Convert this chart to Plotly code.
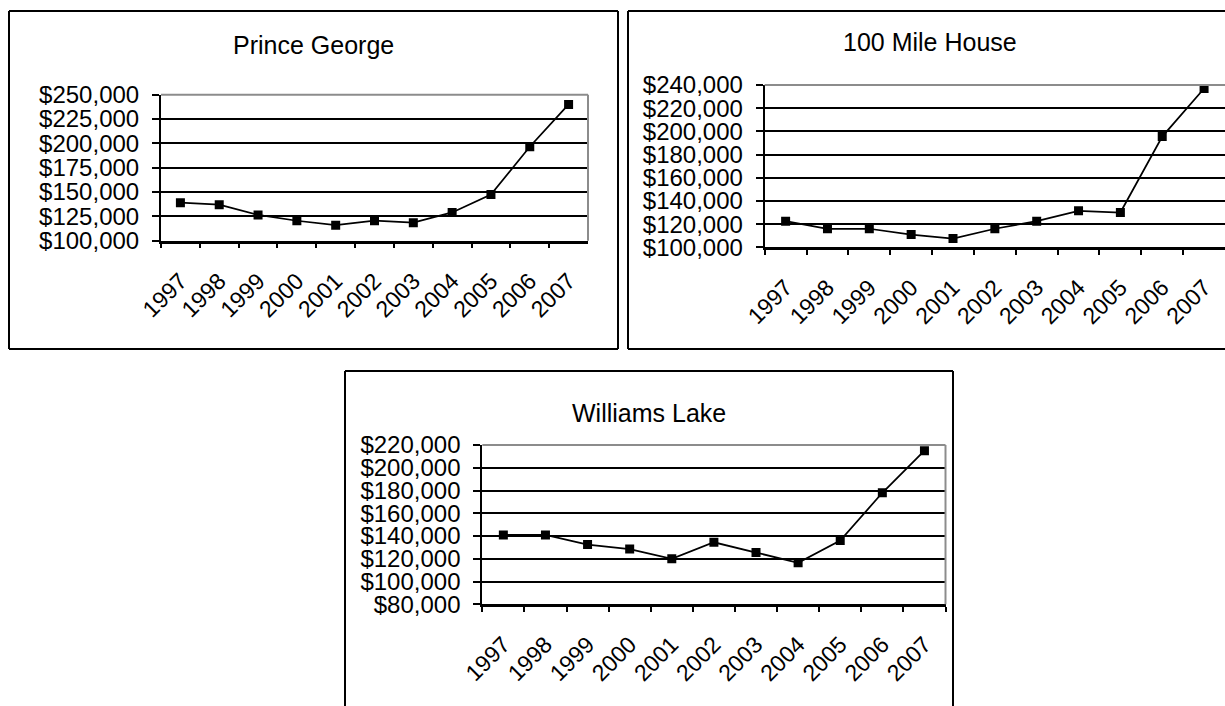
import plotly.graph_objects as go

W, H = 1225, 706

years = ["1997", "1998", "1999", "2000", "2001", "2002", "2003", "2004", "2005", "2006", "2007"]
prince_george = [139000, 137000, 126500, 120500, 116000, 120500, 118500, 129000, 147500, 196500, 240000]
mile_house_100 = [122500, 116000, 116000, 111000, 107500, 116000, 122500, 131500, 130000, 195500, 237000]
williams_lake = [141000, 141000, 132500, 128500, 120000, 134500, 125500, 116500, 136000, 178000, 215000]

titles = ["Prince George", "100 Mile House", "Williams Lake"]
y_ranges = [(100000, 250000, 25000), (100000, 240000, 20000), (80000, 220000, 20000)]

FONT = "Liberation Sans, Arial, sans-serif"


def px(x):
    return min(max(x / W, 0.0), 1.0)


def py(y):
    return min(max(1 - y / H, 0.0), 1.0)


# plot areas in pixels: (left, right, top, bottom)
plot_px = [(161, 588, 94.7, 240.7), (764.7, 1225, 85, 247.3), (482.3, 945.5, 445, 604.3)]
# panel frame edges in pixels (segments kept inside the page)
frame_segments = [
    [(9, 11, 618, 11), (618, 11, 618, 349), (618, 349, 9, 349), (9, 349, 9, 11)],
    [(628, 11, 1225, 11), (628, 349, 1225, 349), (628, 349, 628, 11)],
    [(345, 371, 953, 371), (953, 371, 953, 706), (345, 371, 345, 706)],
]
title_pos = [(313, 45), (930, 42), (649, 413)]

fig = go.Figure()
series = [prince_george, mile_house_100, williams_lake]
shapes = []
annotations = []
layout = {}
for i in range(3):
    sfx = "" if i == 0 else str(i + 1)
    fig.add_trace(go.Scatter(
        x=years, y=series[i], mode="lines+markers",
        line=dict(color="black", width=1.75),
        marker=dict(symbol="square", size=9, color="black"),
        xaxis="x" + sfx, yaxis="y" + sfx, showlegend=False,
        hoverinfo="x+y",
    ))
    l, r, t, b = plot_px[i]
    lo, hi, step = y_ranges[i]
    layout["xaxis" + sfx] = dict(
        domain=[px(l), px(r)], anchor="y" + sfx, type="category",
        range=[-0.5, 10.5], tickson="boundaries", ticks="outside", ticklen=5,
        tickwidth=1.5, tickcolor="black", showline=True, linecolor="black",
        linewidth=2.5, showgrid=False, tickangle=-45, ticklabelstandoff=15,
        tickfont=dict(size=23, color="black", family=FONT), fixedrange=True,
        automargin=False,
    )
    layout["yaxis" + sfx] = dict(
        domain=[py(b), py(t)], anchor="x" + sfx, range=[lo, hi], tick0=lo,
        dtick=step, ticks="outside", ticklen=7, tickwidth=1.5, tickcolor="black",
        showline=True, linecolor="black", linewidth=2, showgrid=True,
        gridcolor="black", gridwidth=2, zeroline=False, tickprefix="$",
        tickformat=",d", ticklabelstandoff=8,
        tickfont=dict(size=24, color="black", family=FONT), fixedrange=True,
        automargin=False,
    )
    # gray plot-area border (top and right)
    xr = "x" + sfx + " domain"
    yr = "y" + sfx + " domain"
    shapes.append(dict(type="line", xref=xr, yref=yr, x0=0, x1=1, y0=1, y1=1,
                       line=dict(color="#8c8c8c", width=2), layer="above"))
    if i != 1:
        shapes.append(dict(type="line", xref=xr, yref=yr, x0=1, x1=1, y0=0, y1=1,
                           line=dict(color="#8c8c8c", width=2), layer="above"))
    for (x0, y0, x1, y1) in frame_segments[i]:
        shapes.append(dict(type="line", xref="paper", yref="paper",
                           x0=px(x0), y0=py(y0), x1=px(x1), y1=py(y1),
                           line=dict(color="black", width=2), layer="below"))
    tx, ty = title_pos[i]
    annotations.append(dict(text=titles[i], xref="paper", yref="paper",
                            x=px(tx), y=py(ty), xanchor="center", yanchor="middle",
                            showarrow=False,
                            font=dict(size=25, color="black", family=FONT)))

fig.update_layout(
    width=W, height=H, margin=dict(l=0, r=0, t=0, b=0, autoexpand=False),
    paper_bgcolor="white", plot_bgcolor="white",
    shapes=shapes, annotations=annotations,
    font=dict(family=FONT, color="black"),
    **layout,
)

fig.write_html("out.html", config={"displayModeBar": False})
